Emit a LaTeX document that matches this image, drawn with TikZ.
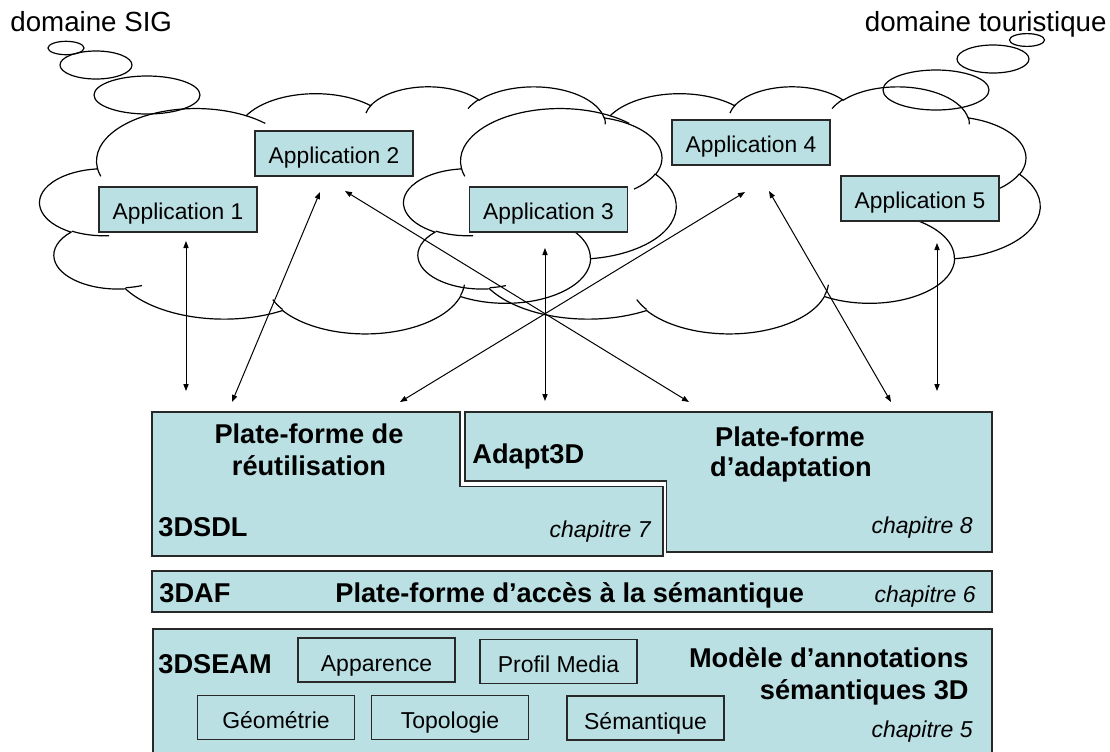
\documentclass[tikz,border=0pt]{standalone}
\usepackage{fontspec}
\setmainfont{Liberation Sans}
\usetikzlibrary{arrows.meta}

\definecolor{platecyan}{RGB}{186,224,228}
\definecolor{edgegray}{RGB}{40,40,40}

% one puff of a cloud: x radius, y radius, start angle, sweep (angles as seen)
\newcommand\puff[4]{\pgfextra{%
    \pgfmathsetmacro\puffs{atan2(#1*sin(#3),#2*cos(#3))}%
    \pgfmathsetmacro\puffd{mod(atan2(#1*sin(#3+#4),#2*cos(#3+#4))-\puffs+720,360)}}%
  arc[x radius=#1,y radius=#2,start angle=\puffs,delta angle=\puffd]}

% cloud in a 432 x 432 box
\newcommand\cloudshape{%
  \draw[cloudline] (39.00,143.70) \puff{67.53}{91.90}{-190.4875}{123.7805}
    \puff{53.33}{72.67}{-144.1024}{89.9452}
    \puff{43.65}{59.45}{-145.8079}{99.7230}
    \puff{48.57}{65.95}{-130.9861}{117.2417}
    \puff{53.33}{72.73}{-78.7089}{109.0269}
    \puff{67.75}{92.20}{-46.2673}{130.2690}
    \puff{57.85}{78.67}{0.6250}{114.0333}
    \puff{67.52}{92.15}{22.4516}{115.1726}
    \puff{77.20}{105.43}{66.2426}{75.7110}
    \puff{43.60}{59.18}{-274.9421}{146.7356}
    \puff{43.45}{59.45}{-246.8285}{152.5189} -- cycle;
  \draw[cloudline] (46.93,261.77) \puff{43.45}{59.45}{86.7420}{26.4295}
    (69.28,348.99) \puff{43.60}{59.18}{73.6105}{11.4475}
    (164.78,390.90) \puff{67.52}{92.15}{137.6242}{14.0811}
    (288.27,347.51) \puff{67.52}{92.15}{6.4533}{15.9984}
    (341.29,229.54) \puff{57.85}{78.67}{-70.2924}{70.9174}
    (417.98,153.54) \puff{53.33}{72.73}{30.3180}{27.7515}
    (383.24,54.26) \puff{48.57}{65.95}{-13.7443}{14.8589}
    (290.78,39.52) \puff{48.57}{65.95}{-149.1815}{18.1954}
    (221.41,47.20) \puff{43.65}{59.45}{-163.4943}{17.6864}
    (140.00,51.92) \puff{67.53}{91.90}{-66.7070}{12.3194}
    (41.27,157.89) \puff{67.53}{91.90}{157.6544}{11.8582};
}

\begin{document}
\begin{tikzpicture}[x=0.5pt,y=-0.5pt,
    cloudline/.style={line width=0.6pt,black},
    link/.style={{Triangle[length=3.5pt,width=2.6pt]}-{Triangle[length=3.5pt,width=2.6pt]},line width=0.5pt},
    platform/.style={draw=edgegray,line width=0.7pt,fill=platecyan},
    appbox/.style={draw=edgegray,line width=0.7pt,fill=platecyan,minimum width=79pt,minimum height=22.5pt,
      inner sep=0pt,text height=9.5pt,text depth=0pt,font=\fontsize{11.4}{13.7}\selectfont},
    partbox/.style={draw=edgegray,line width=0.6pt,minimum width=78.5pt,minimum height=22pt,
      inner sep=0pt,text height=11pt,text depth=0pt,font=\fontsize{11.5}{13.8}\selectfont},
    boldlbl/.style={inner sep=0pt,font=\fontsize{13.6}{16}\selectfont\bfseries},
    chaplbl/.style={inner sep=0pt,font=\fontsize{11.5}{13.8}\selectfont\itshape},
    domlbl/.style={inner sep=0pt,font=\fontsize{13.85}{16.6}\selectfont}]
  \useasboundingbox (0,0) rectangle (1110,751);
  \clip (0,0) rectangle (1110,751);

  % clouds
  \begin{scope}[shift={(40,86)},x=0.7361pt,y=-0.2859pt]
    \cloudshape
  \end{scope}
  \begin{scope}[shift={(404,86)},x=0.7361pt,y=-0.2859pt]
    \cloudshape
  \end{scope}
  \draw[cloudline] (147,95) ellipse [x radius=53,y radius=19];
  \draw[cloudline] (96,65) ellipse [x radius=36,y radius=14];
  \draw[cloudline] (66,48) ellipse [x radius=18,y radius=6.7];
  \draw[cloudline] (936,90) ellipse [x radius=53,y radius=20];
  \draw[cloudline] (993,59) ellipse [x radius=36,y radius=14];
  \draw[cloudline] (1027,40) ellipse [x radius=17.5,y radius=6.4];

  \node[domlbl,anchor=base west] (sig) at (10,31.5) {domaine SIG};
  \node[domlbl,anchor=base east] (tour) at (1107,31.5) {domaine touristique};

  % applications
  \node[appbox] (app1) at (178,209.5) {Application 1};
  \node[appbox] (app2) at (334,153.5) {Application 2};
  \node[appbox] (app3) at (548.5,209.5) {Application 3};
  \node[appbox] (app4) at (751,142.5) {Application 4};
  \node[appbox] (app5) at (920,198.5) {Application 5};

  % platforms
  \draw[platform] (152,412) -- (460,412) -- (460,486.5) -- (663,486.5) -- (663,556) -- (152,556) -- cycle;
  \draw[platform] (465,412) -- (992,412) -- (992,552) -- (666.5,552) -- (666.5,481) -- (465,481) -- cycle;
  \node[boldlbl,anchor=base] (reuse1) at (309,443) {Plate-forme de};
  \node[boldlbl,anchor=base] (reuse2) at (309,475) {réutilisation};
  \node[boldlbl,anchor=base west] (adapt3d) at (472,463) {Adapt3D};
  \node[boldlbl,anchor=base] (adapt1) at (790,446.5) {Plate-forme};
  \node[boldlbl,anchor=base] (adapt2) at (791,476.5) {d’adaptation};
  \node[boldlbl,anchor=base west] (sdl) at (158,536.5) {3DSDL};
  \node[chaplbl,anchor=base east] (ch7) at (651,537) {chapitre 7};
  \node[chaplbl,anchor=base east] (ch8) at (973,533) {chapitre 8};

  \draw[platform] (152,571) rectangle (992,612);
  \node[boldlbl,anchor=base west] (af) at (159,602) {3DAF};
  \node[boldlbl,anchor=base west] (afname) at (335,602) {Plate-forme d’accès à la sémantique};
  \node[chaplbl,anchor=base east] (ch6) at (976,602) {chapitre 6};

  \draw[platform] (153,629) rectangle (992,770);
  \node[boldlbl,anchor=base west] (seam) at (158,673) {3DSEAM};
  \node[partbox] (appar) at (376.5,660) {Apparence};
  \node[partbox] (media) at (558.5,661.5) {Profil Media};
  \node[partbox] (geom) at (276,717.5) {Géométrie};
  \node[partbox] (topo) at (450,717.5) {Topologie};
  \node[partbox] (sema) at (645.5,718) {Sémantique};
  \node[boldlbl,anchor=base east] (model1) at (969,667) {Modèle d’annotations};
  \node[boldlbl,anchor=base east] (model2) at (969,699) {sémantiques 3D};
  \node[chaplbl,anchor=base east] (ch5) at (973,737) {chapitre 5};

  % links between applications and platforms
  \coordinate (a1u) at (186,241);
  \coordinate (a1d) at (186,391);
  \coordinate (a2u) at (320,192);
  \coordinate (a2d) at (232,402);
  \coordinate (a3u) at (345,191);
  \coordinate (a3d) at (689,402);
  \coordinate (a4u) at (745,192);
  \coordinate (a4d) at (400,402);
  \coordinate (a5u) at (545,248);
  \coordinate (a5d) at (545,401);
  \coordinate (a6u) at (769,191);
  \coordinate (a6d) at (891,402);
  \coordinate (a7u) at (937,243);
  \coordinate (a7d) at (937,391);
  \draw[link] (a1u) -- (a1d);
  \draw[link] (a2u) -- (a2d);
  \draw[link] (a3u) -- (a3d);
  \draw[link] (a4u) -- (a4d);
  \draw[link] (a5u) -- (a5d);
  \draw[link] (a6u) -- (a6d);
  \draw[link] (a7u) -- (a7d);
\end{tikzpicture}
\end{document}
